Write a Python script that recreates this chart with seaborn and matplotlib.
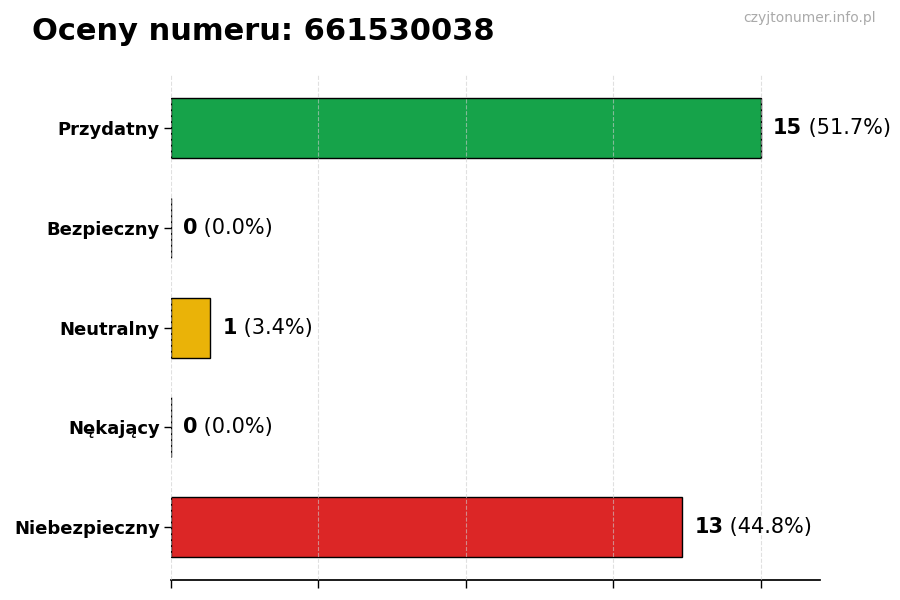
import matplotlib
matplotlib.use("Agg")
import matplotlib.pyplot as plt
import seaborn as sns
import pandas as pd
import numpy as np

categories = ["Przydatny", "Bezpieczny", "Neutralny", "Nękający", "Niebezpieczny"]
counts = [15, 0, 1, 0, 13]
colors = ["#16a34a", "#2563eb", "#eab308", "#ea580c", "#dc2626"]
title = "Oceny numeru: 661530038"
watermark = "czyjtonumer.info.pl"

sns.set_theme(style="white")
plt.rcParams['font.family'] = ['DejaVu Sans']
plt.rcParams['text.color'] = 'black'
plt.rcParams['axes.labelcolor'] = 'black'
plt.rcParams['xtick.color'] = 'black'
plt.rcParams['ytick.color'] = 'black'

df = pd.DataFrame({"cat": categories, "count": counts})
total = sum(counts)

fig = plt.figure(figsize=(9, 6), dpi=100)
ax = fig.add_axes([0.19, 0.033, 0.721, 0.842])

sns.barplot(data=df, y="cat", x="count", hue="cat", palette=colors, legend=False,
            orient="h", width=0.6, edgecolor="black", linewidth=1, ax=ax, saturation=1)

ax.set_xlim(0, max(counts) * 1.1)
ax.set_ylim(len(categories) - 0.47, -0.53)
ax.set_xticks(np.linspace(0, max(counts), 5))
ax.set_xticklabels([])
ax.set_xlabel("")
ax.set_ylabel("")
ax.grid(axis="x", linestyle="--", color="#cccccc", linewidth=0.8, alpha=0.6)
ax.set_axisbelow(False)
for s in ["top", "right", "left"]:
    ax.spines[s].set_visible(False)
ax.spines["bottom"].set_color("black")
ax.tick_params(axis="x", length=6, width=1, color="black", bottom=True)
ax.tick_params(axis="y", length=5, width=1, color="black", left=True, pad=3)
for lbl in ax.get_yticklabels():
    lbl.set_fontweight("bold")
    lbl.set_fontsize(13)
    lbl.set_color("black")

fig.text(0.036, 0.947, title, fontsize=22, fontweight="bold", ha="left", va="center", color="black")
fig.text(0.973, 0.97, watermark, fontsize=10, color="#aaaaaa", ha="right", va="center")

fig.canvas.draw()
renderer = fig.canvas.get_renderer()
unit_px = ax.transData.transform((1, 0))[0] - ax.transData.transform((0, 0))[0]
for i, c in enumerate(counts):
    x = c + 12 / unit_px
    t1 = ax.text(x, i, str(c), fontsize=15, fontweight="bold", va="center", ha="left", color="black")
    bb = t1.get_window_extent(renderer=renderer)
    x2 = ax.transData.inverted().transform((bb.x1, 0))[0]
    pct = 100 * c / total
    ax.text(x2, i, f" ({pct:.1f}%)", fontsize=15, va="center", ha="left", color="black")

fig.savefig("out.png", dpi=100)
